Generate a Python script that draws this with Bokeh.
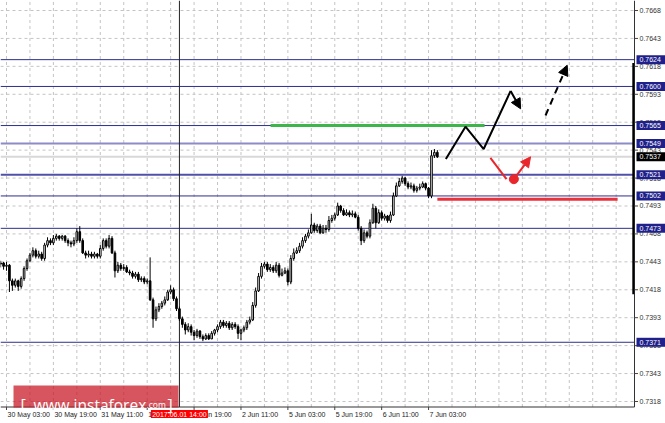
from bokeh.plotting import figure
from bokeh.models import (Range1d, Arrow, NormalHead, BoxAnnotation, Label, ColumnDataSource)
from bokeh.core.properties import value
from bokeh.embed import file_html
from bokeh.resources import INLINE

# ---------------- data (H1 bars, bar 0 = 30 May 03:00, first two bars are 29 May) ----------------
first_bar = -2
first_open = 0.7441
closes = [
    0.7442, 0.7439,
    0.7440, 0.7426, 0.7422, 0.7426, 0.7421, 0.7428, 0.7437, 0.7444, 0.7449, 0.7453,
    0.7448, 0.7450, 0.7446, 0.7458, 0.7462, 0.7460, 0.7464, 0.7466, 0.7464, 0.7466,
    0.7462, 0.7460, 0.7459, 0.7462, 0.7470, 0.7462, 0.7451, 0.7449, 0.7450, 0.7448,
    0.7450, 0.7448, 0.7455, 0.7462, 0.7457, 0.7464, 0.7451, 0.7435, 0.7440, 0.7437,
    0.7438, 0.7434, 0.7433, 0.7430, 0.7432, 0.7427, 0.7428, 0.7425, 0.7426, 0.7409,
    0.7392, 0.7400, 0.7403, 0.7406, 0.7409, 0.7416, 0.7418, 0.7410, 0.7401, 0.7392,
    0.7387, 0.7382, 0.7385, 0.7380, 0.7377, 0.7381, 0.7376, 0.7374, 0.7377, 0.7374,
    0.7379, 0.7382, 0.7385, 0.7389, 0.7386, 0.7388, 0.7384, 0.7387, 0.7385, 0.7379,
    0.7382, 0.7384, 0.7389, 0.7391, 0.7404, 0.7417, 0.7430, 0.7439, 0.7441, 0.7436,
    0.7438, 0.7435, 0.7440, 0.7431, 0.7433, 0.7435, 0.7425, 0.7446, 0.7451, 0.7453,
    0.7457, 0.7462, 0.7466, 0.7469, 0.7476, 0.7471, 0.7475, 0.7469, 0.7473, 0.7472,
    0.7480, 0.7482, 0.7485, 0.7493, 0.7489, 0.7485, 0.7487, 0.7485, 0.7486, 0.7483,
    0.7473, 0.7462, 0.7469, 0.7466, 0.7478, 0.7491, 0.7478, 0.7487, 0.7482, 0.7484,
    0.7480, 0.7485, 0.7502, 0.7511, 0.7515, 0.7518, 0.7513, 0.7510, 0.7511, 0.7507,
    0.7509, 0.7510, 0.7513, 0.7509, 0.7502, 0.7538, 0.7541, 0.7537]
highs = [
    0.7444, 0.7443,
    0.7443, 0.7441, 0.7428, 0.7428, 0.7427, 0.7430, 0.7439, 0.7446, 0.7451, 0.7456,
    0.7455, 0.7453, 0.7452, 0.7460, 0.7465, 0.7464, 0.7467, 0.7468, 0.7467, 0.7467,
    0.7467, 0.7464, 0.7462, 0.7465, 0.7473, 0.7475, 0.7464, 0.7453, 0.7453, 0.7452,
    0.7452, 0.7451, 0.7458, 0.7464, 0.7464, 0.7467, 0.7466, 0.7453, 0.7443, 0.7442,
    0.7441, 0.7440, 0.7436, 0.7435, 0.7434, 0.7434, 0.7430, 0.7430, 0.7428, 0.7447,
    0.7411, 0.7403, 0.7406, 0.7408, 0.7412, 0.7418, 0.7422, 0.7420, 0.7412, 0.7403,
    0.7394, 0.7389, 0.7388, 0.7387, 0.7382, 0.7383, 0.7382, 0.7378, 0.7379, 0.7379,
    0.7381, 0.7383, 0.7387, 0.7391, 0.7391, 0.7390, 0.7390, 0.7389, 0.7389, 0.7387,
    0.7383, 0.7386, 0.7391, 0.7394, 0.7407, 0.7420, 0.7433, 0.7442, 0.7443, 0.7443,
    0.7441, 0.7440, 0.7443, 0.7442, 0.7437, 0.7438, 0.7437, 0.7449, 0.7455, 0.7456,
    0.7460, 0.7465, 0.7468, 0.7472, 0.7486, 0.7478, 0.7477, 0.7477, 0.7476, 0.7476,
    0.7484, 0.7485, 0.7487, 0.7496, 0.7494, 0.7491, 0.7490, 0.7489, 0.7489, 0.7488,
    0.7485, 0.7475, 0.7472, 0.7471, 0.7481, 0.7495, 0.7493, 0.7490, 0.7489, 0.7486,
    0.7485, 0.7488, 0.7505, 0.7514, 0.7518, 0.7520, 0.7519, 0.7515, 0.7514, 0.7513,
    0.7511, 0.7513, 0.7515, 0.7514, 0.7510, 0.7543, 0.7544, 0.7543]
lows = [
    0.7438, 0.7436,
    0.7435, 0.7416, 0.7417, 0.7420, 0.7417, 0.7419, 0.7426, 0.7435, 0.7443, 0.7447,
    0.7446, 0.7446, 0.7444, 0.7444, 0.7456, 0.7458, 0.7458, 0.7462, 0.7462, 0.7462,
    0.7460, 0.7457, 0.7456, 0.7457, 0.7460, 0.7460, 0.7450, 0.7446, 0.7447, 0.7446,
    0.7446, 0.7446, 0.7446, 0.7453, 0.7455, 0.7455, 0.7450, 0.7429, 0.7433, 0.7435,
    0.7435, 0.7433, 0.7431, 0.7428, 0.7428, 0.7425, 0.7425, 0.7423, 0.7423, 0.7408,
    0.7384, 0.7390, 0.7398, 0.7401, 0.7404, 0.7408, 0.7414, 0.7408, 0.7399, 0.7390,
    0.7384, 0.7378, 0.7380, 0.7377, 0.7373, 0.7375, 0.7374, 0.7372, 0.7373, 0.7373,
    0.7374, 0.7377, 0.7380, 0.7383, 0.7384, 0.7384, 0.7382, 0.7382, 0.7383, 0.7374,
    0.7373, 0.7380, 0.7382, 0.7387, 0.7390, 0.7402, 0.7416, 0.7428, 0.7437, 0.7434,
    0.7434, 0.7433, 0.7433, 0.7429, 0.7430, 0.7432, 0.7422, 0.7423, 0.7444, 0.7450,
    0.7451, 0.7455, 0.7460, 0.7464, 0.7468, 0.7469, 0.7469, 0.7468, 0.7468, 0.7469,
    0.7470, 0.7478, 0.7480, 0.7484, 0.7487, 0.7484, 0.7484, 0.7483, 0.7483, 0.7482,
    0.7471, 0.7458, 0.7460, 0.7464, 0.7464, 0.7477, 0.7473, 0.7477, 0.7480, 0.7480,
    0.7478, 0.7478, 0.7484, 0.7501, 0.7510, 0.7513, 0.7511, 0.7508, 0.7508, 0.7505,
    0.7505, 0.7507, 0.7509, 0.7507, 0.7500, 0.7500, 0.7536, 0.7536]

time_ticks = [0, 16, 32, 48, 64, 80, 96, 112, 128, 144]
time_labels = ["30 May 03:00", "30 May 19:00", "31 May 11:00", "1 Jun 03:00",
               "1 Jun 19:00", "2 Jun 11:00", "5 Jun 03:00", "5 Jun 19:00",
               "6 Jun 11:00", "7 Jun 03:00"]
grid_bars = [0, 8, 16, 24, 32, 40, 48, 56, 64, 72, 80, 88, 96, 104, 112, 120, 128,
             136, 144, 152, 160, 168, 176, 184, 192, 200, 208]
price_ticks = [0.7318, 0.7343, 0.7368, 0.7393, 0.7418, 0.7443, 0.7468, 0.7493,
               0.7518, 0.7543, 0.7568, 0.7593, 0.7618, 0.7643, 0.7668]
price_tick_labels = ["0.7318", "0.7343", "0.7368", "0.7393", "0.7418", "0.7443",
                     "0.7468", "0.7493", "0.7518", "0.7543", "0.7568", "0.7593",
                     "0.7618", "0.7643", "0.7668"]
levels = [0.7624, 0.7600, 0.7565, 0.7549, 0.7521, 0.7502, 0.7473, 0.7371]
level_labels = ["0.7624", "0.7600", "0.7565", "0.7549", "0.7521", "0.7502", "0.7473", "0.7371"]
level_colors = ["#2e2e8f", "#2e2e8f", "#2e2e8f", "#8c8cc8", "#5050a8", "#2e2e8f", "#2e2e8f", "#2e2e8f"]
level_widths = [1, 1, 1, 2, 2, 1, 1, 1]
current_price = 0.7537
current_label = "0.7537"
cursor_bar = 59
cursor_label = "2017.06.01 14:00"
range_bar_prices = [0.7414, 0.7621]

# forecast drawings (bar index, price)
green_bars = [90.1, 163.1]
green_level = 0.7565
red_bars = [147.0, 208.5]
red_level = 0.7499
black_path_bars = [149.9, 156.6, 162.8, 172.0]
black_path_prices = [0.7535, 0.7564, 0.7544, 0.7596]
black_arrow_end = (175.4, 0.7580)
dashed_bars = [183.9, 191.3]
dashed_prices = [0.7574, 0.7619]
red_path_bars = [165.1, 170.6]
red_path_prices = [0.7536, 0.7517]
red_dot = (173.1, 0.7517)
red_arrow_end = (178.8, 0.7537)


# ---------------- layout helpers (picture pixel -> data space) ----------------
def bx(px):
    return (px - 6) / 2.931


def py(px):
    return 0.7668 - (px - 10) / 11171


W, H = 665, 423
chart_left, chart_right = bx(0), bx(634)
chart_top, chart_bottom = py(0), py(406.5)
FONT = value("Liberation Sans")

opens = [first_open] + closes[:-1]
idx = list(range(first_bar, first_bar + len(closes)))
bull = [c >= o for o, c in zip(opens, closes)]
src = ColumnDataSource(dict(
    x=idx, open=opens, close=closes, high=highs, low=lows,
    top=[max(o, c) for o, c in zip(opens, closes)],
    bottom=[min(o, c) for o, c in zip(opens, closes)],
    fill=["white" if b else "black" for b in bull]))

p = figure(width=W, height=H, output_backend="svg", toolbar_location=None,
           x_range=Range1d(bx(0), bx(W)), y_range=Range1d(py(H), py(0)),
           x_axis_location=None, y_axis_location=None, min_border=0)
p.outline_line_color = None
p.grid.visible = False
p.background_fill_color = "white"
p.border_fill_color = "white"

# dashed grid
p.segment(x0=grid_bars, y0=[chart_bottom] * len(grid_bars), x1=grid_bars,
          y1=[chart_top] * len(grid_bars), line_color="#c4c4c4", line_dash="3 3", line_width=1)
p.segment(x0=[chart_left] * len(price_ticks), y0=price_ticks,
          x1=[chart_right] * len(price_ticks), y1=price_ticks,
          line_color="#c4c4c4", line_dash="3 3", line_width=1)

# bid line and level lines
p.segment(x0=[chart_left], y0=[current_price], x1=[chart_right], y1=[current_price],
          line_color="#d8d8d8", line_width=2)
for lv, col, w in zip(levels, level_colors, level_widths):
    p.segment(x0=[chart_left], y0=[lv], x1=[chart_right], y1=[lv], line_color=col, line_width=w)

# cursor line
p.segment(x0=[cursor_bar], y0=[chart_bottom], x1=[cursor_bar], y1=[chart_top],
          line_color="#222222", line_width=1)

# candles
p.segment(x0="x", y0="high", x1="x", y1="low", source=src, line_color="black", line_width=1)
p.vbar(x="x", top="top", bottom="bottom", width=0.55, source=src,
       fill_color="fill", line_color="black", line_width=1)

# forecast drawings
p.line(green_bars, [green_level, green_level], line_color="#3db54a", line_width=3)
p.line(red_bars, [red_level, red_level], line_color="#e8333c", line_width=3)
p.line(black_path_bars, black_path_prices, line_color="black", line_width=2)
p.line(red_path_bars, red_path_prices, line_color="#e8262c", line_width=2)
p.scatter([red_dot[0]], [red_dot[1]], size=9, fill_color="#e8262c", line_color="#e8262c")

# axes (MT4 style): lines, ticks, labels
p.segment(x0=[chart_right], y0=[chart_bottom], x1=[chart_right], y1=[chart_top],
          line_color="#333333", line_width=1)
p.segment(x0=[chart_left], y0=[chart_bottom], x1=[chart_right], y1=[chart_bottom],
          line_color="#333333", line_width=1)
p.segment(x0=[bx(632.8)], y0=[range_bar_prices[0]], x1=[bx(632.8)], y1=[range_bar_prices[1]],
          line_color="black", line_width=2)
p.segment(x0=[chart_right] * len(price_ticks), y0=price_ticks,
          x1=[bx(637.5)] * len(price_ticks), y1=price_ticks, line_color="#444444")
p.segment(x0=time_ticks, y0=[chart_bottom] * len(time_ticks), x1=time_ticks,
          y1=[py(409.5)] * len(time_ticks), line_color="#444444")
p.text(x=[bx(639)] * len(price_ticks), y=price_ticks, text=price_tick_labels,
       text_font=FONT, text_font_size=value("7px"), text_color="#333333",
       text_align="left", text_baseline="middle")
p.text(x=time_ticks, y=[py(413.5)] * len(time_ticks), text=time_labels, x_offset=1,
       text_font=FONT, text_font_size=value("7px"), text_color="#222222",
       text_align="left", text_baseline="middle")

# cursor time label
p.rect(x=[cursor_bar], y=[py(413.5)], width=57, height=8, width_units="screen",
       height_units="screen", fill_color="#ff0000", line_color=None)
p.text(x=[cursor_bar], y=[py(413.5)], text=[cursor_label], text_font=FONT,
       text_font_size=value("7px"), text_color="white", text_align="center",
       text_baseline="middle")

# level price boxes
p.rect(x=[bx(651)] * len(levels), y=levels, width=30, height=9, width_units="screen",
       height_units="screen", fill_color="#20208a", line_color=None)
p.text(x=[bx(639)] * len(levels), y=levels, text=level_labels, text_font=FONT,
       text_font_size=value("7px"), text_color="white", text_align="left",
       text_baseline="middle")
p.rect(x=[bx(651)], y=[current_price], width=30, height=9, width_units="screen",
       height_units="screen", fill_color="black", line_color=None)
p.text(x=[bx(639)], y=[current_price], text=[current_label], text_font=FONT,
       text_font_size=value("7px"), text_color="white", text_align="left",
       text_baseline="middle")

# arrows
p.add_layout(Arrow(end=NormalHead(size=10, fill_color="black", line_color="black"),
                   x_start=black_path_bars[-1], y_start=black_path_prices[-1],
                   x_end=black_arrow_end[0], y_end=black_arrow_end[1],
                   line_color="black", line_width=2))
p.add_layout(Arrow(end=NormalHead(size=10, fill_color="black", line_color="black"),
                   x_start=dashed_bars[0], y_start=dashed_prices[0],
                   x_end=dashed_bars[1], y_end=dashed_prices[1],
                   line_color="black", line_width=2, line_dash="7 5"))
p.add_layout(Arrow(end=NormalHead(size=10, fill_color="#e8262c", line_color="#e8262c"),
                   x_start=red_dot[0], y_start=red_dot[1],
                   x_end=red_arrow_end[0], y_end=red_arrow_end[1],
                   line_color="#e8262c", line_width=2))

# watermark (screen units, origin at the bottom-left of the canvas)
p.add_layout(BoxAnnotation(left=13, right=178, bottom=16, top=38,
                           left_units="screen", right_units="screen",
                           top_units="screen", bottom_units="screen",
                           fill_color="#c81420", fill_alpha=0.72, line_color=None))
for txt, xx, fs in [("[", 20, "16px"), ("www.instaforex", 33, "15.5px"),
                    (".com", 146, "8.5px"), ("]", 167, "16px")]:
    p.add_layout(Label(x=xx, y=19, x_units="screen", y_units="screen", text=txt,
                       text_align="left", text_baseline="alphabetic",
                       text_font="Open Sans", text_font_size=fs, text_color="white"))

open("out.html", "w").write(file_html(p, INLINE))
